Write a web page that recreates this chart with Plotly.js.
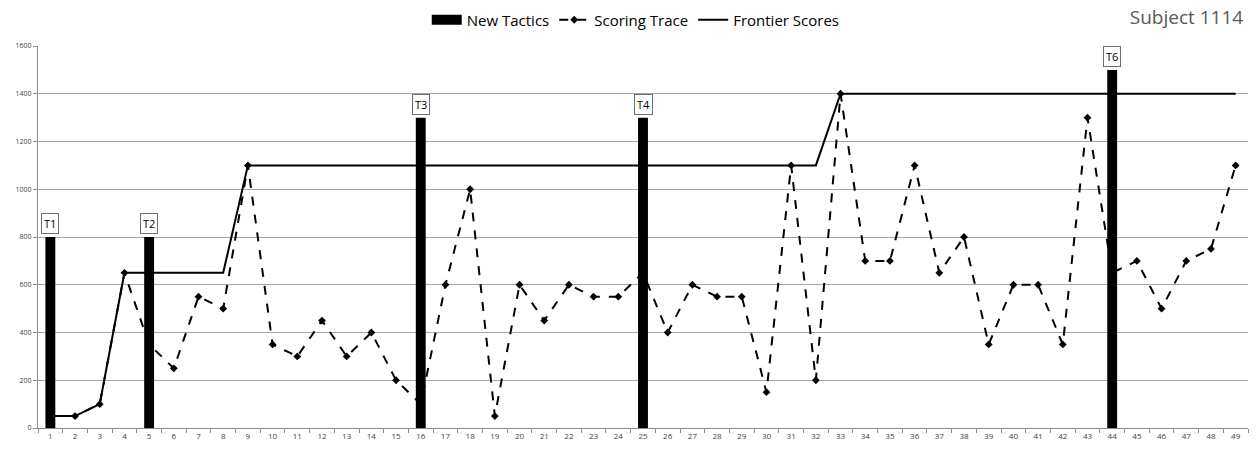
<!DOCTYPE html>
<html>
<head>
<meta charset="utf-8">
<script src="https://cdn.plot.ly/plotly-3.0.1.min.js"></script>
<style>
html,body{margin:0;padding:0;background:#fff;}
#chart{width:1257px;height:450px;}
</style>
</head>
<body>
<div id="chart"></div>
<script>
const categories = Array.from({length: 49}, (_, i) => String(i + 1));
const scoringTrace = [50, 50, 100, 650, 350, 250, 550, 500, 1100, 350,
  300, 450, 300, 400, 200, 100, 600, 1000, 50, 600,
  450, 600, 550, 550, 650, 400, 600, 550, 550, 150,
  1100, 200, 1400, 700, 700, 1100, 650, 800, 350, 600,
  600, 350, 1300, 650, 700, 500, 700, 750, 1100];
const frontierScores = [50, 50, 100, 650, 650, 650, 650, 650, 1100, 1100,
  1100, 1100, 1100, 1100, 1100, 1100, 1100, 1100, 1100, 1100,
  1100, 1100, 1100, 1100, 1100, 1100, 1100, 1100, 1100, 1100,
  1100, 1100, 1400, 1400, 1400, 1400, 1400, 1400, 1400, 1400,
  1400, 1400, 1400, 1400, 1400, 1400, 1400, 1400, 1400];
const tacticCats = ["1", "5", "16", "25", "44"];
const tacticValues = [800, 800, 1300, 1300, 1500];
const tacticLabels = ["T1", "T2", "T3", "T4", "T6"];
const yTicks = [0, 200, 400, 600, 800, 1000, 1200, 1400, 1600];

const font = "'Open Sans', 'Noto Sans', sans-serif";

const traces = [
  {type: 'bar', name: 'New Tactics', x: tacticCats, y: tacticValues, showlegend: false,
   width: 0.4, marker: {color: '#000000', line: {width: 0}}},
  // legend proxy for the bar series (wide black swatch, no data)
  {type: 'scatter', mode: 'lines', name: 'New Tactics', x: [null], y: [null],
   line: {color: '#000000', width: 10}},
  {type: 'scatter', mode: 'lines+markers', name: 'Scoring Trace', x: categories, y: scoringTrace,
   line: {color: '#000000', width: 2, dash: 'dash'},
   marker: {symbol: 'diamond', size: 6, color: '#000000'}},
  {type: 'scatter', mode: 'lines', name: 'Frontier Scores', x: categories, y: frontierScores,
   line: {color: '#000000', width: 2}}
];

const annotations = tacticCats.map((c, i) => ({
  x: categories.indexOf(c), y: tacticValues[i], xref: 'x', yref: 'y',
  text: tacticLabels[i], showarrow: false, yanchor: 'bottom', yshift: 3,
  bgcolor: '#ffffff', bordercolor: '#6e6e6e', borderwidth: 1, borderpad: 2,
  font: {family: font, size: 11, color: '#000000'}
}));

const layout = {
  width: 1257, height: 450,
  margin: {l: 38, r: 9, t: 46, b: 22, pad: 0, autoexpand: false},
  paper_bgcolor: '#ffffff', plot_bgcolor: '#ffffff',
  showlegend: true,
  title: {text: 'Subject 1114', x: 0.996, xanchor: 'right', xref: 'paper', y: 0.962, yanchor: 'middle',
          font: {family: font, size: 19, color: '#595959'}},
  legend: {orientation: 'h', x: 0.494, xanchor: 'center', y: 1.068, yanchor: 'middle',
           font: {family: font, size: 15, color: '#000000'}, traceorder: 'normal',
           bgcolor: 'rgba(0,0,0,0)'},
  barmode: 'overlay',
  xaxis: {type: 'category', categoryorder: 'array', categoryarray: categories,
          range: [-0.5, 48.5], tickson: 'boundaries', ticks: 'outside', ticklen: 4,
          tickcolor: '#8c8c8c', showline: true, linecolor: '#8c8c8c', linewidth: 1,
          showgrid: false, zeroline: false, tickfont: {family: font, size: 8, color: '#404040'},
          fixedrange: true},
  yaxis: {range: [0, 1600], tickvals: yTicks, ticktext: yTicks.map(String),
          ticks: 'outside', ticklen: 4, tickcolor: '#8c8c8c',
          showline: true, linecolor: '#8c8c8c', linewidth: 1,
          showgrid: true, gridcolor: '#a6a6a6', gridwidth: 1, zeroline: false,
          tickfont: {family: font, size: 7, color: '#404040'}, fixedrange: true},
  annotations: annotations
};

Plotly.newPlot('chart', traces, layout, {displayModeBar: false, staticPlot: true});
</script>
</body>
</html>
